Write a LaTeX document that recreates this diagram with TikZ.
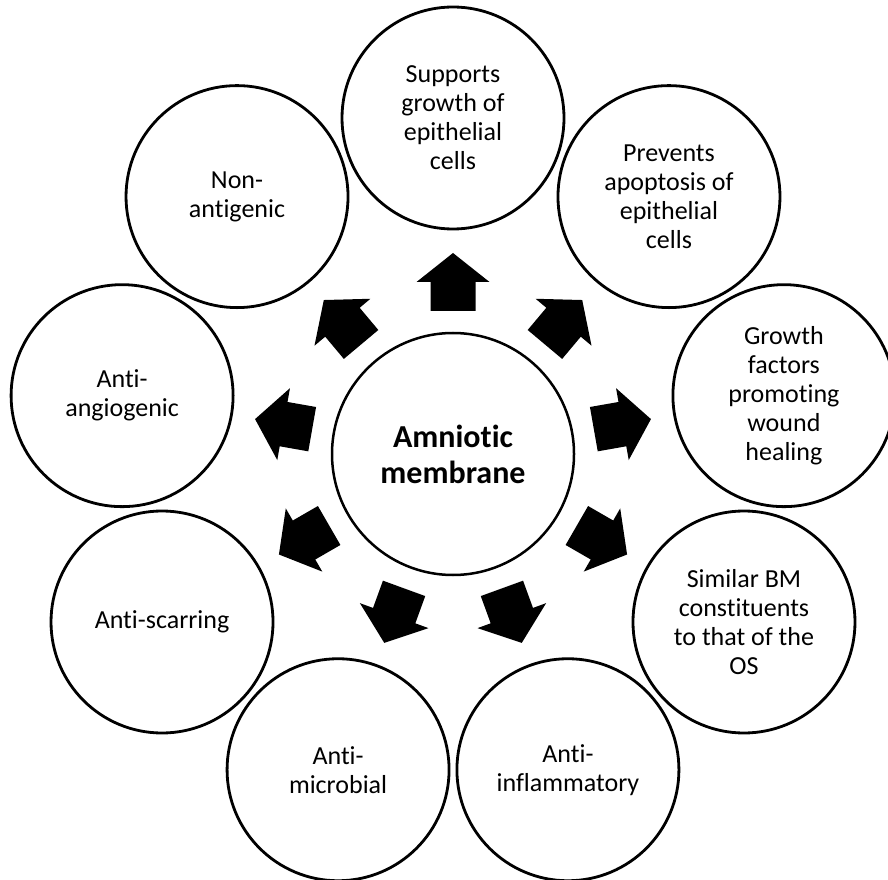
\documentclass[tikz,border=0pt]{standalone}
\usepackage{fontspec}
\setmainfont{Carlito}[Ligatures={NoCommon}]
\begin{document}
\begin{tikzpicture}[x=1pt,y=1pt,
  bubble/.style={circle, draw=black, line width=2.8pt, fill=white,
    minimum size=222pt, inner sep=0pt, align=center,
    font=\fontsize{26}{29}\selectfont},
  hub/.style={circle, draw=black, line width=2.5pt, fill=white,
    minimum size=242pt, inner sep=0pt, align=center,
    font=\fontsize{32}{36}\selectfont\bfseries},
  blockarrow/.style={fill=black}]
\useasboundingbox (0,0) rectangle (888,879);

% central hub
\node[hub] (c) at (453,425) {Amniotic\\membrane};

% surrounding properties, 40 degrees apart
\node[bubble] (p1) at ([shift={(90:336)}]c.center)   {Supports\\growth of\\epithelial\\cells};
\node[bubble] (p2) at ([shift={(50:336)}]c.center)   {Prevents\\apoptosis of\\epithelial\\cells};
\node[bubble] (p3) at ([shift={(10:336)}]c.center)   {Growth\\factors\\promoting\\wound\\healing};
\node[bubble] (p4) at ([shift={(-30:336)}]c.center)  {Similar BM\\constituents\\to that of the\\OS};
\node[bubble] (p5) at ([shift={(-70:336)}]c.center)  {Anti-\\inflammatory};
\node[bubble] (p6) at ([shift={(-110:336)}]c.center) {Anti-\\microbial};
\node[bubble] (p7) at ([shift={(-150:336)}]c.center) {Anti-scarring};
\node[bubble] (p8) at ([shift={(170:336)}]c.center)  {Anti-\\angiogenic};
\node[bubble] (p9) at ([shift={(130:336)}]c.center)  {Non-\\antigenic};

% block arrows pointing outward from the hub
\foreach \a in {90,50,10,-30,-70,-110,-150,170,130} {
  \begin{scope}[shift={(c.center)}, rotate=\a]
    \fill[blockarrow] (143,-22.5) -- (172,-22.5) -- (172,-36.5) -- (201,0)
      -- (172,36.5) -- (172,22.5) -- (143,22.5) -- cycle;
  \end{scope}
}
\end{tikzpicture}
\end{document}
